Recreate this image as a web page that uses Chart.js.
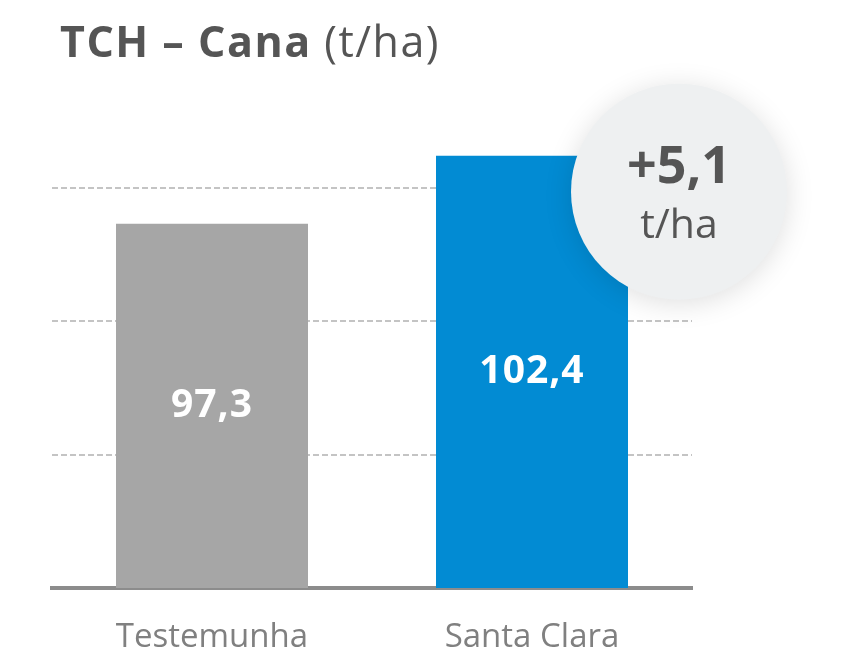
<!DOCTYPE html>
<html>
<head>
<meta charset="utf-8">
<script src="https://cdn.jsdelivr.net/npm/chart.js@4"></script>
<style>
  html, body { margin: 0; padding: 0; background: #fff; }
  #box { width: 857px; height: 664px; }
</style>
</head>
<body>
<div id="box"><canvas id="grafico"></canvas></div>
<script>
// dados
const categorias = ['Testemunha', 'Santa Clara'];
const valores = [97.3, 102.4];
const cores = ['#a6a6a6', '#028bd3'];
const linhasGrade = [80, 90, 100];
const ganho = '+5,1';
const ganhoUnidade = 't/ha';

const fonte = '"Open Sans", Lato, sans-serif';

// titulo com parte em negrito
const tituloPlugin = {
    id: 'titulo',
    afterDraw(chart) {
        const ctx = chart.ctx;
        ctx.save();
        ctx.fillStyle = '#555555';
        ctx.textBaseline = 'alphabetic';
        ctx.letterSpacing = '1.5px';
        ctx.font = 'bold 43px ' + fonte;
        const parte1 = 'TCH – Cana ';
        ctx.fillText(parte1, 60, 57);
        const w = ctx.measureText(parte1).width;
        ctx.font = '43px ' + fonte;
        ctx.fillText('(t/ha)', 60 + w, 57);
        ctx.restore();
    }
};

// valores dentro das barras + circulo com o ganho
const rotulosPlugin = {
    id: 'rotulos',
    afterDraw(chart) {
        const ctx = chart.ctx;
        const meta = chart.getDatasetMeta(0);
        const fundo = chart.scales.y.bottom;
        ctx.save();
        ctx.fillStyle = '#ffffff';
        ctx.font = 'bold 39px ' + fonte;
        ctx.letterSpacing = '1px';
        ctx.textAlign = 'center';
        ctx.textBaseline = 'middle';
        meta.data.forEach(function(bar, i) {
            const txt = valores[i].toFixed(1).replace('.', ',');
            ctx.fillText(txt, bar.x, (bar.y + Math.min(bar.base, fundo)) / 2);
        });
        ctx.restore();

        const bar = meta.data[1];
        const cx = bar.x + bar.width / 2 + 51;
        const cy = bar.y + 36;
        ctx.save();
        ctx.shadowColor = 'rgba(0,0,0,0.13)';
        ctx.shadowBlur = 28;
        ctx.shadowOffsetY = 4;
        ctx.fillStyle = '#eef0f1';
        ctx.beginPath();
        ctx.arc(cx, cy, 108, 0, Math.PI * 2);
        ctx.fill();
        ctx.restore();

        ctx.save();
        ctx.fillStyle = '#555555';
        ctx.textAlign = 'center';
        ctx.textBaseline = 'middle';
        ctx.font = 'bold 52px ' + fonte;
        ctx.fillText(ganho, cx, cy - 24);
        ctx.font = '41px ' + fonte;
        ctx.fillText(ganhoUnidade, cx, cy + 35);
        ctx.restore();
    }
};

const ctx = document.getElementById('grafico').getContext('2d');
const grafico = new Chart(ctx, {
    type: 'bar',
    data: {
        labels: categorias,
        datasets: [{
            data: valores,
            backgroundColor: cores,
            borderWidth: 0,
            categoryPercentage: 1,
            barPercentage: 0.6
        }]
    },
    options: {
        responsive: true,
        maintainAspectRatio: false,
        animation: false,
        layout: {
            padding: { top: 121, left: 52, right: 165, bottom: 0 }
        },
        plugins: {
            legend: { display: false },
            tooltip: { enabled: false }
        },
        scales: {
            x: {
                grid: { display: false, drawTicks: false },
                border: { display: true, color: '#8c8c8c', width: 4 },
                ticks: {
                    color: '#808080',
                    padding: 30,
                    maxRotation: 0,
                    font: { family: fonte, size: 33 }
                },
                afterFit(scale) {
                    scale.height = 76;
                }
            },
            y: {
                min: 70,
                max: 105,
                afterBuildTicks(scale) {
                    scale.ticks = linhasGrade.map(function(v) { return { value: v }; });
                },
                ticks: { display: false },
                grid: {
                    color: '#c4c4c4',
                    lineWidth: 2,
                    drawTicks: false
                },
                border: { display: false, dash: [6, 3] }
            }
        }
    },
    plugins: [tituloPlugin, rotulosPlugin]
});
</script>
</body>
</html>
